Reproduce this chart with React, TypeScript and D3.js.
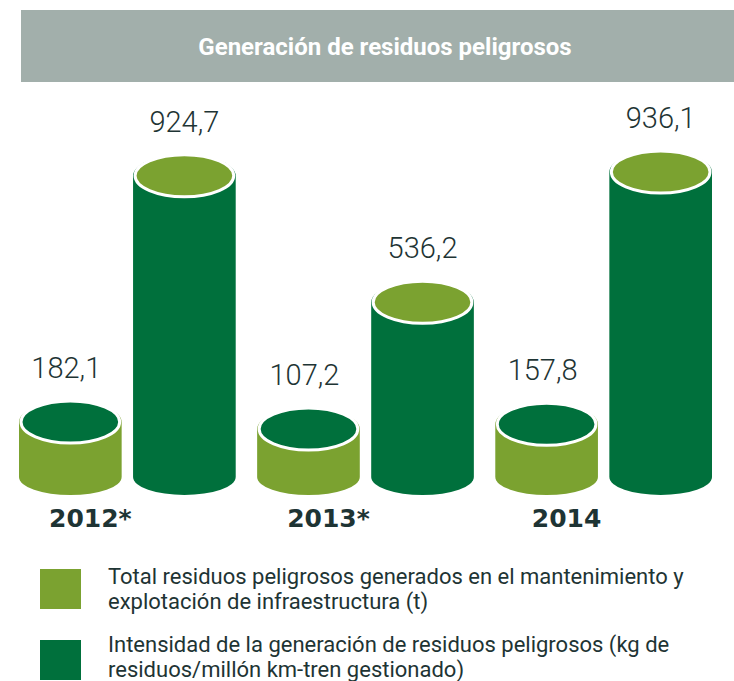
import React from "react";
import * as d3 from "d3";

// data
const years = ["2012*", "2013*", "2014"];
const totalResiduos = [182.1, 107.2, 157.8]; // t
const intensidad = [924.7, 536.2, 936.1]; // kg / millón km-tren
const seriesKeys = ["total", "intensidad"];
const legendLines = [
  ["Total residuos peligrosos generados en el mantenimiento y", "explotación de infraestructura (t)"],
  ["Intensidad de la generación de residuos peligrosos (kg de", "residuos/millón km-tren gestionado)"],
];
const title = "Generación de residuos peligrosos";

const W = 734;
const H = 681;
const lightGreen = "#7ba230";
const darkGreen = "#00703c";
const textColor = "#1e3434";
const baseY = 477;
const ryTop = 21;
const ryBottom = 18;

function fmt(v: number) {
  return v.toFixed(1).replace(".", ",");
}

function Cylinder({ x, w, topY, body, cap }: { x: number; w: number; topY: number; body: string; cap: string }) {
  const rx = w / 2;
  const d =
    `M${x},${topY} L${x},${baseY} ` +
    `A${rx},${ryBottom} 0 0 0 ${x + w},${baseY} ` +
    `L${x + w},${topY} A${rx},${ryTop} 0 0 0 ${x},${topY} Z`;
  return (
    <g>
      <path d={d} fill={body} />
      <ellipse cx={x + rx} cy={topY} rx={rx - 2} ry={ryTop} fill={cap} stroke="#fff" strokeWidth={3} />
    </g>
  );
}

export default function App() {
  const x0 = d3.scaleBand<string>().domain(years).range([19, 712]).paddingInner(0.09);
  const x1 = d3.scaleBand<string>().domain(seriesKeys).range([0, x0.bandwidth()]).paddingInner(0.1);
  const bw = x1.bandwidth();

  // the two series have different units, so each gets its own height scale
  const hLight = d3.scaleLinear().domain([0, d3.max(totalResiduos)!]).range([38, 55]);
  const hDark = d3.scaleLinear().domain([0, d3.max(intensidad)!]).range([0, 305]);

  return (
    <svg width={W} height={H} style={{ position: "absolute", left: 0, top: 0 }}>
      <rect x={21} y={10} width={W - 21} height={72} fill="#a2afab" />
      <text x={385} y={55} textAnchor="middle" fill="#fff" fontFamily="Roboto" fontWeight={700} fontSize={24}>
        {title}
      </text>

      {years.map((yr, i) => {
        const gx = x0(yr)!;
        const lx = gx + x1("total")!;
        const dx = gx + x1("intensidad")!;
        const lTop = baseY - hLight(totalResiduos[i]);
        const dTop = baseY - hDark(intensidad[i]);
        return (
          <g key={yr}>
            <Cylinder x={lx} w={bw} topY={lTop} body={lightGreen} cap={darkGreen} />
            <Cylinder x={dx} w={bw} topY={dTop} body={darkGreen} cap={lightGreen} />
            <text x={lx + bw / 2 - 4} y={lTop - 44} textAnchor="middle" fill={textColor} fontFamily="Roboto" fontWeight={300} fontSize={29}>
              {fmt(totalResiduos[i])}
            </text>
            <text x={dx + bw / 2} y={dTop - 44} textAnchor="middle" fill={textColor} fontFamily="Roboto" fontWeight={300} fontSize={29}>
              {fmt(intensidad[i])}
            </text>
            <text x={lx + bw / 2 + 20} y={527} textAnchor="middle" fill={textColor} fontFamily="DejaVu Sans" fontWeight={700} fontSize={25}>
              {yr}
            </text>
          </g>
        );
      })}

      {legendLines.map((lines, i) => (
        <g key={i}>
          <rect x={40} y={569 + i * 71} width={41} height={40} fill={i === 0 ? lightGreen : darkGreen} />
          {lines.map((ln, j) => (
            <text key={j} x={108} y={584 + i * 68 + j * 25} fill={textColor} fontFamily="Roboto" fontSize={22}>
              {ln}
            </text>
          ))}
        </g>
      ))}
    </svg>
  );
}
